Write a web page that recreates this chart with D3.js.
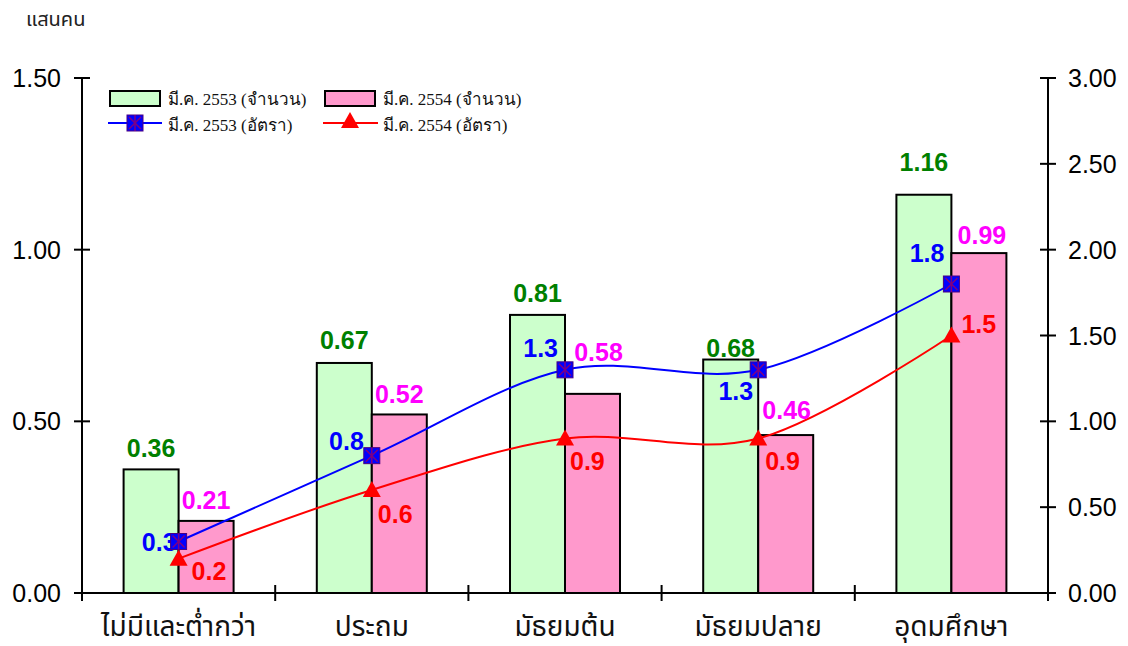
<!DOCTYPE html>
<html>
<head>
<meta charset="utf-8">
<script src="https://cdn.jsdelivr.net/npm/d3@7"></script>
<style>
  body { margin: 0; background: #fff; }
  svg { display: block; }
</style>
</head>
<body>
<script>
// Data
const categories = ["ไม่มีและต่ำกว่า", "ประถม", "มัธยมต้น", "มัธยมปลาย", "อุดมศึกษา"];
const count2553 = [0.36, 0.67, 0.81, 0.68, 1.16];
const count2554 = [0.21, 0.52, 0.58, 0.46, 0.99];
const rate2553 = [0.3, 0.8, 1.3, 1.3, 1.8];
const rate2554 = [0.2, 0.6, 0.9, 0.9, 1.5];
const leftTicks = [0, 0.5, 1.0, 1.5];
const rightTicks = [0, 0.5, 1.0, 1.5, 2.0, 2.5, 3.0];
const legendNames = ["มี.ค. 2553 (จำนวน)", "มี.ค. 2554 (จำนวน)", "มี.ค. 2553 (อัตรา)", "มี.ค. 2554 (อัตรา)"];

// label nudges, picked by eye so they don't collide
const greenDy = [-21, -23, -22, -12, -33];
const pinkDy = [-21, -20, -42, -25, -18];
const pinkDx = [0, 0, 6, 1, 3];
const blueOff = [[-2, 0], [-8, -15], [-7, -22], [-5, 21], [-7, -31]];
const redOff = [[13, 12], [6, 24], [5, 22], [7, 22], [10, -12]];

const W = 1128, H = 646;
const plotL = 82, plotR = 1048, plotT = 78, plotB = 593;

const svg = d3.select("body").append("svg")
  .attr("width", W).attr("height", H);

const x = d3.scaleBand().domain(categories).range([plotL, plotR]).padding(0);
const barW = 55;
const y = d3.scaleLinear().domain([0, 1.5]).range([plotB, plotT]);
const y2 = d3.scaleLinear().domain([0, 3]).range([plotB, plotT]);

const numFont = "'Liberation Sans', Arial, sans-serif";
const thaiFont = "'Noto Sans Thai', Tahoma, 'Noto Sans', sans-serif";
const serifFont = "'Liberation Serif', 'Times New Roman', serif";

// unit label
svg.append("text").attr("x", 26).attr("y", 26)
  .attr("font-family", thaiFont).attr("font-size", 20).attr("fill", "#222")
  .text("แสนคน");

// bars
const cx = d => x(d) + x.bandwidth() / 2;
svg.append("g").selectAll("rect")
  .data(categories).join("rect")
  .attr("x", d => cx(d) - barW).attr("width", barW)
  .attr("y", (d, i) => y(count2553[i])).attr("height", (d, i) => plotB - y(count2553[i]))
  .attr("fill", "#ccffcc").attr("stroke", "#000").attr("stroke-width", 2);
svg.append("g").selectAll("rect")
  .data(categories).join("rect")
  .attr("x", d => cx(d)).attr("width", barW)
  .attr("y", (d, i) => y(count2554[i])).attr("height", (d, i) => plotB - y(count2554[i]))
  .attr("fill", "#ff99cc").attr("stroke", "#000").attr("stroke-width", 2);

// axes
const axisG = svg.append("g").attr("stroke", "#000").attr("stroke-width", 2);
axisG.append("line").attr("x1", plotL).attr("x2", plotL).attr("y1", plotT).attr("y2", plotB + 8);
axisG.append("line").attr("x1", plotR).attr("x2", plotR).attr("y1", plotT).attr("y2", plotB + 8);
axisG.append("line").attr("x1", plotL - 8).attr("x2", plotR + 8).attr("y1", plotB).attr("y2", plotB);
axisG.selectAll(".lt").data(leftTicks).join("line")
  .attr("x1", plotL - 8).attr("x2", plotL + 8).attr("y1", d => y(d)).attr("y2", d => y(d));
axisG.selectAll(".rt").data(rightTicks).join("line")
  .attr("x1", plotR - 8).attr("x2", plotR + 8).attr("y1", d => y2(d)).attr("y2", d => y2(d));
const catEdges = categories.map(c => x(c)).concat([plotR]);
axisG.selectAll(".ct").data(catEdges).join("line")
  .attr("x1", d => d).attr("x2", d => d).attr("y1", plotB - 8).attr("y2", plotB + 8);

svg.append("g").selectAll("text").data(leftTicks).join("text")
  .attr("x", plotL - 21).attr("y", d => y(d)).attr("dy", "0.36em")
  .attr("text-anchor", "end").attr("font-family", numFont).attr("font-size", 25)
  .text(d => d3.format(".2f")(d));
svg.append("g").selectAll("text").data(rightTicks).join("text")
  .attr("x", plotR + 20).attr("y", d => y2(d)).attr("dy", "0.36em")
  .attr("font-family", numFont).attr("font-size", 25)
  .text(d => d3.format(".2f")(d));
svg.append("g").selectAll("text").data(categories).join("text")
  .attr("x", d => cx(d)).attr("y", 636)
  .attr("text-anchor", "middle").attr("font-family", thaiFont).attr("font-size", 28)
  .attr("fill", "#111")
  .text(d => d);

// smooth lines on the right axis
const line = d3.line().curve(d3.curveCardinal.tension(0));
const bluePts = categories.map((c, i) => [cx(c), y2(rate2553[i])]);
const redPts = categories.map((c, i) => [cx(c), y2(rate2554[i])]);
svg.append("path").attr("d", line(bluePts)).attr("fill", "none")
  .attr("stroke", "#0000ff").attr("stroke-width", 2);
svg.append("path").attr("d", line(redPts)).attr("fill", "none")
  .attr("stroke", "#ff0000").attr("stroke-width", 2);

function starMarker(g, px, py) {
  g.append("rect").attr("x", px - 8).attr("y", py - 8).attr("width", 16).attr("height", 16)
    .attr("fill", "#0000ff").attr("stroke", "#4b0082").attr("stroke-width", 1);
  const s = g.append("g").attr("stroke", "#800080").attr("stroke-width", 1.5);
  s.append("line").attr("x1", px - 6).attr("x2", px + 6).attr("y1", py - 6).attr("y2", py + 6);
  s.append("line").attr("x1", px - 6).attr("x2", px + 6).attr("y1", py + 6).attr("y2", py - 6);
  s.append("line").attr("x1", px).attr("x2", px).attr("y1", py - 8).attr("y2", py + 8);
}
function triMarker(g, px, py) {
  g.append("path").attr("d", `M${px},${py - 9}L${px + 9},${py + 7}L${px - 9},${py + 7}Z`)
    .attr("fill", "#ff0000");
}

// value labels
const lab = svg.append("g").attr("font-family", numFont).attr("font-weight", "bold")
  .attr("font-size", 25).attr("dominant-baseline", "central");
lab.selectAll(".g").data(categories).join("text")
  .attr("x", d => cx(d) - barW / 2).attr("y", (d, i) => y(count2553[i]) + greenDy[i])
  .attr("text-anchor", "middle").attr("fill", "#008000").text((d, i) => count2553[i]);
lab.selectAll(".p").data(categories).join("text")
  .attr("x", (d, i) => cx(d) + barW / 2 + pinkDx[i]).attr("y", (d, i) => y(count2554[i]) + pinkDy[i])
  .attr("text-anchor", "middle").attr("fill", "#ff00ff").text((d, i) => count2554[i]);
lab.selectAll(".b").data(categories).join("text")
  .attr("x", (d, i) => bluePts[i][0] + blueOff[i][0]).attr("y", (d, i) => bluePts[i][1] + blueOff[i][1])
  .attr("text-anchor", "end").attr("fill", "#0000ff").text((d, i) => rate2553[i]);
lab.selectAll(".r").data(categories).join("text")
  .attr("x", (d, i) => redPts[i][0] + redOff[i][0]).attr("y", (d, i) => redPts[i][1] + redOff[i][1])
  .attr("text-anchor", "start").attr("fill", "#ff0000").text((d, i) => rate2554[i]);

const markers = svg.append("g");
bluePts.forEach(p => starMarker(markers, p[0], p[1]));
redPts.forEach(p => triMarker(markers, p[0], p[1]));

// legend
const lg = svg.append("g").attr("font-family", serifFont).attr("font-size", 17).attr("fill", "#111");
lg.append("rect").attr("x", 110).attr("y", 91).attr("width", 50).attr("height", 15)
  .attr("fill", "#ccffcc").attr("stroke", "#000").attr("stroke-width", 2);
lg.append("rect").attr("x", 325).attr("y", 91).attr("width", 50).attr("height", 15)
  .attr("fill", "#ff99cc").attr("stroke", "#000").attr("stroke-width", 2);
lg.append("line").attr("x1", 108).attr("x2", 162).attr("y1", 123).attr("y2", 123)
  .attr("stroke", "#0000ff").attr("stroke-width", 2);
starMarker(lg, 135, 123);
lg.append("line").attr("x1", 323).attr("x2", 378).attr("y1", 123).attr("y2", 123)
  .attr("stroke", "#ff0000").attr("stroke-width", 2);
triMarker(lg, 350, 121);
[[168, 105], [383, 105], [168, 131], [383, 131]].forEach((p, i) => {
  lg.append("text").attr("x", p[0]).attr("y", p[1]).text(legendNames[i]);
});
</script>
</body>
</html>
